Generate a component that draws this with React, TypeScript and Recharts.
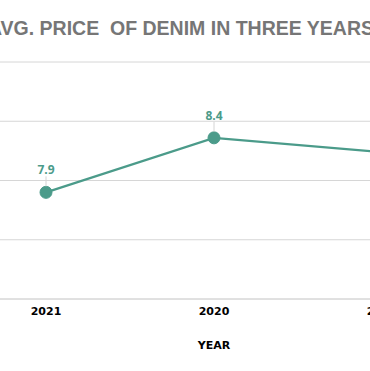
import React from 'react';
import { LineChart, Line, XAxis, YAxis, CartesianGrid } from 'recharts';

const years = ['2021', '2020', '2019'];
const avgPrice = [7.9, 8.36, 8.24];
const yTicks = [7, 7.5, 8, 8.5, 9];
const title = 'AVG. PRICE  OF DENIM IN THREE YEARS';
const xTitle = 'YEAR';

const data = years.map((y, i) => ({ year: y, price: avgPrice[i] }));

const TEAL = '#4B9B8A';

const PointLabel = (props: any) => {
  const { x, y, value } = props;
  if (x == null || y == null) return null;
  return (
    <g>
      <line x1={x} x2={x} y1={y - 16} y2={y - 6} stroke="#d4d4d4" strokeWidth={1} />
      <text
        x={x}
        y={y - 18}
        textAnchor="middle"
        fill={TEAL}
        fontFamily="'Open Sans', sans-serif"
        fontWeight={700}
        fontSize={12}
      >
        {Number(value).toFixed(1)}
      </text>
    </g>
  );
};

export default function App() {
  return (
    <div
      style={{
        position: 'fixed',
        left: 0,
        top: 0,
        width: 370,
        height: 371,
        overflow: 'hidden',
        background: '#fff',
      }}
    >
      <div
        style={{
          position: 'absolute',
          left: -204,
          width: 770,
          top: 17,
          textAlign: 'center',
          whiteSpace: 'pre',
          fontFamily: "'Liberation Sans', Arial, sans-serif",
          fontWeight: 700,
          fontSize: 19.5,
          color: '#767676',
          lineHeight: '22px',
        }}
      >
        {title}
      </div>
      <div style={{ position: 'absolute', left: -38, top: 0 }}>
        <LineChart
          width={504}
          height={371}
          data={data}
          margin={{ top: 62, right: 0, bottom: 22, left: 0 }}
        >
          <CartesianGrid vertical={false} stroke="#d6d6d6" />
          <YAxis hide width={0} domain={[7, 9]} ticks={yTicks} type="number" />
          <XAxis
            dataKey="year"
            height={50}
            padding={{ left: 84, right: 84 }}
            axisLine={{ stroke: '#d6d6d6' }}
            tickLine={false}
            tick={{
              fill: '#000',
              fontFamily: "'DejaVu Sans', sans-serif",
              fontWeight: 700,
              fontSize: 11,
            }}
            label={{
              value: xTitle,
              position: 'insideBottom',
              offset: 0,
              fill: '#000',
              fontFamily: "'DejaVu Sans', sans-serif",
              fontWeight: 700,
              fontSize: 11,
            }}
          />
          <Line
            dataKey="price"
            stroke={TEAL}
            strokeWidth={2.2}
            dot={{ r: 6, fill: TEAL, stroke: TEAL, strokeWidth: 1 }}
            activeDot={false}
            isAnimationActive={false}
            label={<PointLabel />}
          />
        </LineChart>
      </div>
    </div>
  );
}
